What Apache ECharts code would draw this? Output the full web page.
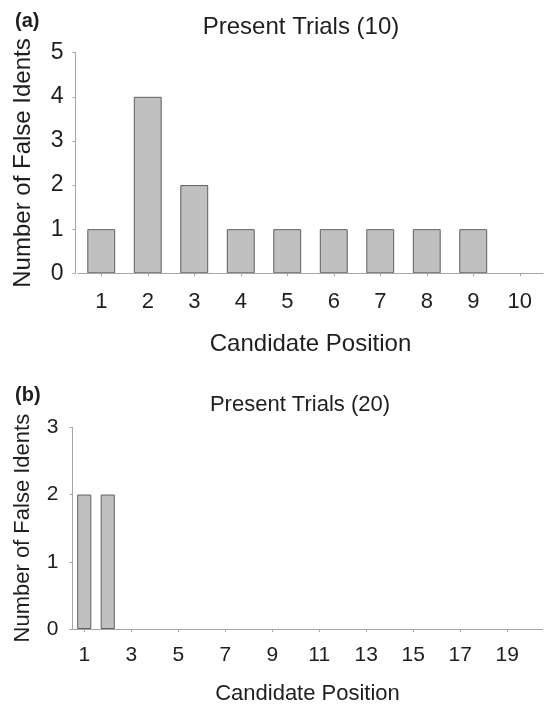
<!DOCTYPE html>
<html>
<head>
<meta charset="utf-8">
<script src="https://cdn.jsdelivr.net/npm/echarts@6/dist/echarts.min.js"></script>
<style>
  html, body { margin: 0; padding: 0; background: #fff; }
  #chart { width: 545px; height: 706px; }
</style>
</head>
<body>
<div id="chart"></div>
<script>
// Panel (a): present trials with 10 candidates
const positionsA = ['1', '2', '3', '4', '5', '6', '7', '8', '9', '10'];
const falseIdentsA = [1, 4, 2, 1, 1, 1, 1, 1, 1, 0];
const yTicksA = [0, 1, 2, 3, 4, 5];

// Panel (b): present trials with 20 candidates
const positionsB = ['1', '2', '3', '4', '5', '6', '7', '8', '9', '10',
                    '11', '12', '13', '14', '15', '16', '17', '18', '19', '20'];
const falseIdentsB = [2, 2, 0, 0, 0, 0, 0, 0, 0, 0, 0, 0, 0, 0, 0, 0, 0, 0, 0, 0];
const yTicksB = [0, 1, 2, 3];

const FONT = '"Liberation Sans", Arial, Helvetica, sans-serif';
const TEXT = '#1e1e1e';
const AXIS = '#a6a6a6';

const chart = echarts.init(document.getElementById('chart'), null, { renderer: 'canvas' });

function xAxisFor(gridIndex, cats, fontSize, nameSize, labelInterval, labelMargin, nameGap) {
  return {
    type: 'category',
    gridIndex: gridIndex,
    data: cats,
    z: 3,
    axisLine: { show: true, lineStyle: { color: AXIS, width: 1 } },
    axisTick: { show: true, alignWithLabel: true, length: 3, interval: labelInterval,
                lineStyle: { color: AXIS } },
    axisLabel: { interval: labelInterval, margin: labelMargin, color: TEXT,
                 fontFamily: FONT, fontSize: fontSize },
    name: 'Candidate Position',
    nameLocation: 'middle',
    nameGap: nameGap,
    nameTextStyle: { color: TEXT, fontFamily: FONT, fontSize: nameSize },
    splitLine: { show: false }
  };
}

function yAxisFor(gridIndex, ticks, fontSize, nameSize, labelMargin, nameGap, offset) {
  return {
    type: 'value',
    gridIndex: gridIndex,
    min: ticks[0],
    max: ticks[ticks.length - 1],
    interval: 1,
    offset: offset,
    axisLine: { show: true, lineStyle: { color: AXIS, width: 1 } },
    axisTick: { show: true, length: 3, lineStyle: { color: AXIS } },
    axisLabel: { margin: labelMargin, color: TEXT, fontFamily: FONT, fontSize: fontSize },
    splitLine: { show: false },
    name: 'Number of False Idents',
    nameLocation: 'middle',
    nameGap: nameGap,
    nameTextStyle: { color: TEXT, fontFamily: FONT, fontSize: nameSize }
  };
}

const barStyle = { color: '#c0c0c0', borderColor: '#5f5f5f', borderWidth: 1 };

// Empty positions get no outline, so nothing is stroked along the axis.
function barData(values) {
  return values.map(v => (v === 0 ? { value: v, itemStyle: { borderWidth: 0 } } : v));
}

chart.setOption({
  animation: false,
  backgroundColor: '#ffffff',
  title: [
    { text: 'Present Trials (10)', left: 296, top: 10, textAlign: 'center',
      textStyle: { color: TEXT, fontFamily: FONT, fontSize: 24, fontWeight: 'normal' } },
    { text: 'Present Trials (20)', left: 295, top: 389, textAlign: 'center',
      textStyle: { color: TEXT, fontFamily: FONT, fontSize: 22, fontWeight: 'normal' } }
  ],
  graphic: [
    { type: 'text', left: 15, top: 11,
      style: { text: '(a)', fill: TEXT, font: 'bold 20px ' + FONT } },
    { type: 'text', left: 15, top: 385,
      style: { text: '(b)', fill: TEXT, font: 'bold 20px ' + FONT } }
  ],
  grid: [
    { left: 78, right: 2, top: 52.7, height: 220.6, containLabel: false },
    { left: 72.5, right: 2.5, top: 427.3, height: 204, containLabel: false }
  ],
  xAxis: [
    xAxisFor(0, positionsA, 22, 24, 0, 18, 59),
    xAxisFor(1, positionsB, 21, 22, 1, 16, 54)
  ],
  yAxis: [
    yAxisFor(0, yTicksA, 23, 24, 12, 40, 2.5),
    yAxisFor(1, yTicksB, 21, 22, 14, 39, 0)
  ],
  series: [
    { type: 'bar', xAxisIndex: 0, yAxisIndex: 0, data: barData(falseIdentsA),
      barCategoryGap: '40%', itemStyle: barStyle },
    { type: 'bar', xAxisIndex: 1, yAxisIndex: 1, data: barData(falseIdentsB),
      barCategoryGap: '40%', itemStyle: barStyle }
  ]
});
</script>
</body>
</html>
